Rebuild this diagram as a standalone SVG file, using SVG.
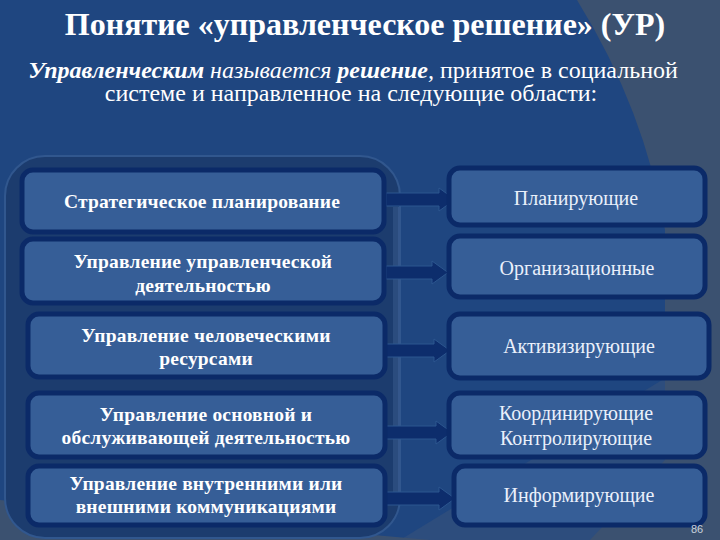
<svg xmlns="http://www.w3.org/2000/svg" width="720" height="540" viewBox="0 0 720 540">
<style>
.bg{fill:#1f4680}
.lbox{fill:#365e97;stroke:#0b2a68;stroke-width:5}
.rbox{fill:#365e97;stroke:#0b2a68;stroke-width:5}
.lt{font-family:"Liberation Serif","DejaVu Serif",serif;font-weight:bold;font-size:19.5px;fill:#ffffff;text-anchor:middle;letter-spacing:0.2px}
.rt{font-family:"Liberation Serif","DejaVu Serif",serif;font-size:20px;fill:#eaf0fb;text-anchor:middle}
.arrow{fill:#0d2d6c;stroke:#2c568f;stroke-width:1}
.title{font-family:"Liberation Serif","DejaVu Serif",serif;font-weight:bold;font-size:32px;fill:#ffffff;text-anchor:middle}
.sub{font-family:"Liberation Serif","DejaVu Serif",serif;font-size:24px;fill:#ffffff;text-anchor:middle}
</style>
<g id="background">
<rect class="bg" x="0" y="0" width="720" height="540"/>
<path d="M400,540 L667,377 L720,377 L720,540 Z" fill="#2d4d7d"/>
<path d="M577,0 L720,0 L720,540 L590,540 L665,460 L665,230 Q645,110 577,0 Z" fill="#3b5170"/>
<path d="M0,500 Q200,520 430,540 L0,540 Z" fill="#3b5170"/>
<rect x="5" y="156" width="395" height="382" rx="40" fill="#1c3c6e" stroke="#31578e" stroke-width="2"/>
</g>
<g id="title">
<text class="title" x="365" y="35">Понятие «управленческое решение» (УР)</text>
<text class="sub" x="353" y="78"><tspan font-weight="bold" font-style="italic">Управленческим</tspan> <tspan font-style="italic">называется</tspan> <tspan font-weight="bold" font-style="italic">решение</tspan><tspan font-style="italic">,</tspan> принятое в социальной</text>
<text class="sub" x="351" y="101">системе и направленное на следующие области:</text>
</g>
<g id="connectors">
<rect x="393" y="207" width="7" height="298" fill="#2b4c7e"/>
<line x1="399" y1="207" x2="399" y2="505" stroke="#3f6198" stroke-width="1"/>
<path class="arrow" d="M386,193 H439 V188 L455,199.5 L439,211 V206 H386 Z"/>
<path class="arrow" d="M386,266 H432 V261 L448,272.5 L432,284 V279 H386 Z"/>
<path class="arrow" d="M386,344 H434 V339 L450,350.5 L434,362 V357 H386 Z"/>
<path class="arrow" d="M386,426 H436 V421 L452,432.5 L436,444 V439 H386 Z"/>
<path class="arrow" d="M386,492 H439 V487 L455,498.5 L439,510 V505 H386 Z"/>
</g>
<g id="l1"><rect class="lbox" x="22" y="170" width="362" height="62" rx="11"/><text class="lt" x="202" y="208">Стратегическое планирование</text></g>
<g id="l2"><rect class="lbox" x="22" y="239" width="362" height="64" rx="11"/><text class="lt" x="203" y="268">Управление управленческой</text><text class="lt" x="203" y="292">деятельностью</text></g>
<g id="l3"><rect class="lbox" x="28" y="314" width="357" height="63" rx="11"/><text class="lt" x="206" y="342">Управление человеческими</text><text class="lt" x="206" y="365">ресурсами</text></g>
<g id="l4"><rect class="lbox" x="28" y="393" width="357" height="64" rx="11"/><text class="lt" x="206" y="421">Управление основной и</text><text class="lt" x="206" y="444">обслуживающей деятельностью</text></g>
<g id="l5"><rect class="lbox" x="28" y="466" width="357" height="59" rx="11"/><text class="lt" x="206" y="490">Управление внутренними или</text><text class="lt" x="206" y="513">внешними коммуникациями</text></g>
<g id="r1"><rect class="rbox" x="449" y="168" width="256" height="57" rx="11"/><text class="rt" x="576" y="205">Планирующие</text></g>
<g id="r2"><rect class="rbox" x="449" y="236" width="256" height="61" rx="11"/><text class="rt" x="577" y="275">Организационные</text></g>
<g id="r3"><rect class="rbox" x="449" y="314" width="260" height="64" rx="11"/><text class="rt" x="579" y="353">Активизирующие</text></g>
<g id="r4"><rect class="rbox" x="449" y="393" width="256" height="64" rx="11"/><text class="rt" x="576" y="420">Координирующие</text><text class="rt" x="576" y="445">Контролирующие</text></g>
<g id="r5"><rect class="rbox" x="454" y="466" width="251" height="59" rx="11"/><text class="rt" x="579" y="502">Информирующие</text></g>
<text x="697" y="533" font-family="Liberation Sans,Arial,sans-serif" font-size="11" fill="#c8d0dc" text-anchor="middle">86</text>
</svg>
